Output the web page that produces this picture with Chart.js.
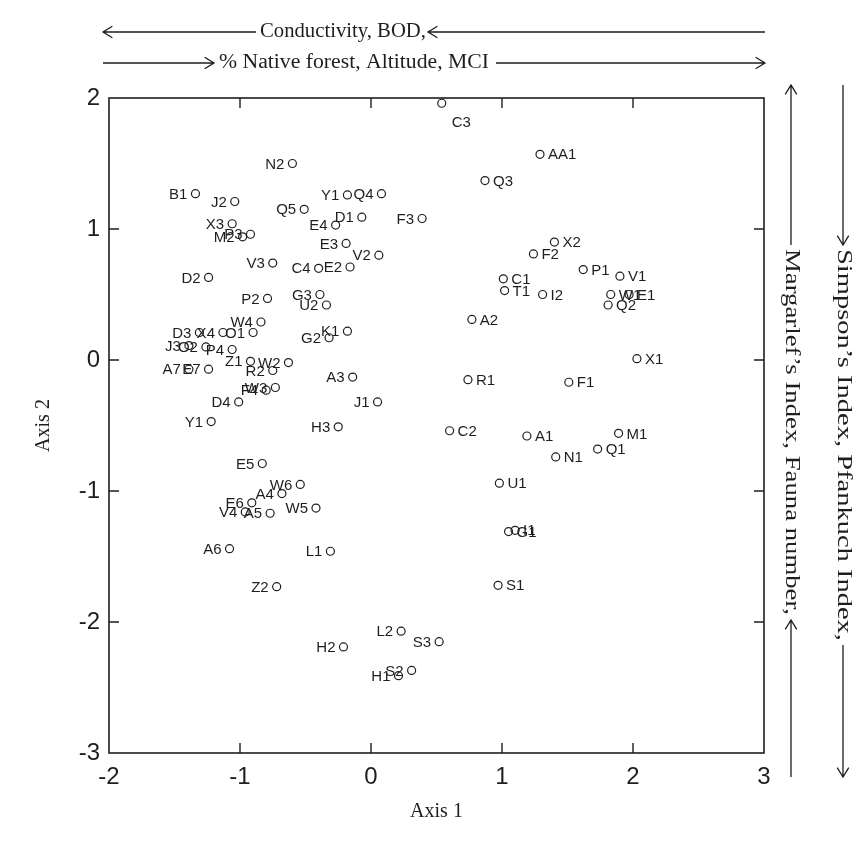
<!DOCTYPE html>
<html lang="en">
<head>
<meta charset="UTF-8" />
<title>Site ordination</title>
<script src="https://cdn.jsdelivr.net/npm/chart.js"></script>
<style>
    body {
        margin: 0;
        background: #fff;
    }
    .chart-box {
        position: relative;
        width: 856px;
        height: 855px;
    }
</style>
</head>
<body>

<div class="chart-box">
    <canvas id="ordChart"></canvas>
</div>

<script>
    // site scores on the first two ordination axes
    const siteNames = [
        'N2', 'B1', 'J2', 'Y1', 'Q4', 'Q5', 'D1', 'E4', 'F3', 'X3', 'M2', 'P3',
        'E3', 'V2', 'V3', 'C4', 'E2', 'D2', 'P2', 'G3', 'U2', 'W4', 'K1', 'G2',
        'D3', 'X4', 'O1', 'J3', 'O2', 'P4', 'Z1', 'W2', 'R2', 'A7', 'E7', 'A3',
        'F4', 'W3', 'D4', 'J1', 'Y1', 'H3', 'E5', 'W6', 'A4', 'E6', 'V4', 'A5',
        'W5', 'A6', 'L1', 'Z2', 'L2', 'H2', 'S3', 'S2', 'H1',
        'C3', 'AA1', 'Q3', 'X2', 'F2', 'P1', 'V1', 'C1', 'T1', 'I2', 'W1', 'E1',
        'Q2', 'A2', 'X1', 'R1', 'F1', 'C2', 'A1', 'M1', 'Q1', 'N1', 'U1', 'G1',
        'I1', 'S1'
    ];
    const axis1 = [
        -0.60, -1.34, -1.04, -0.18, 0.08, -0.51, -0.07, -0.27, 0.39, -1.06, -0.98, -0.92,
        -0.19, 0.06, -0.75, -0.40, -0.16, -1.24, -0.79, -0.39, -0.34, -0.84, -0.18, -0.32,
        -1.31, -1.13, -0.90, -1.39, -1.26, -1.06, -0.92, -0.63, -0.75, -1.39, -1.24, -0.14,
        -0.80, -0.73, -1.01, 0.05, -1.22, -0.25, -0.83, -0.54, -0.68, -0.91, -0.96, -0.77,
        -0.42, -1.08, -0.31, -0.72, 0.23, -0.21, 0.52, 0.31, 0.21,
        0.54, 1.29, 0.87, 1.40, 1.24, 1.62, 1.90, 1.01, 1.02, 1.31, 1.83, 1.97,
        1.81, 0.77, 2.03, 0.74, 1.51, 0.60, 1.19, 1.89, 1.73, 1.41, 0.98, 1.05,
        1.10, 0.97
    ];
    const axis2 = [
        1.50, 1.27, 1.21, 1.26, 1.27, 1.15, 1.09, 1.03, 1.08, 1.04, 0.94, 0.96,
        0.89, 0.80, 0.74, 0.70, 0.71, 0.63, 0.47, 0.50, 0.42, 0.29, 0.22, 0.17,
        0.21, 0.21, 0.21, 0.11, 0.10, 0.08, -0.01, -0.02, -0.08, -0.07, -0.07, -0.13,
        -0.23, -0.21, -0.32, -0.32, -0.47, -0.51, -0.79, -0.95, -1.02, -1.09, -1.16, -1.17,
        -1.13, -1.44, -1.46, -1.73, -2.07, -2.19, -2.15, -2.37, -2.41,
        1.96, 1.57, 1.37, 0.90, 0.81, 0.69, 0.64, 0.62, 0.53, 0.50, 0.50, 0.50,
        0.42, 0.31, 0.01, -0.15, -0.17, -0.54, -0.58, -0.56, -0.68, -0.74, -0.94, -1.31,
        -1.30, -1.72
    ];
    const axis1Ticks = [-2, -1, 0, 1, 2, 3];
    const axis2Ticks = [-3, -2, -1, 0, 1, 2];

    const ink = '#1e1e1e';
    const sans = "'Liberation Sans', Arial, sans-serif";
    const serif = "'Liberation Serif', 'Times New Roman', serif";

    const points = siteNames.map((n, i) => ({ x: axis1[i], y: axis2[i], name: n }));

    // open chevron head at (x2, y2), pointing away from (x1, y1)
    function drawArrow(ctx, x1, y1, x2, y2) {
        const a = Math.atan2(y2 - y1, x2 - x1);
        const h = 11;
        ctx.beginPath();
        ctx.moveTo(x1, y1);
        ctx.lineTo(x2, y2);
        ctx.moveTo(x2 - h * Math.cos(a - 0.55), y2 - h * Math.sin(a - 0.55));
        ctx.lineTo(x2, y2);
        ctx.lineTo(x2 - h * Math.cos(a + 0.55), y2 - h * Math.sin(a + 0.55));
        ctx.stroke();
    }

    // text stretched to a set length; rotated reads top to bottom
    function fittedText(ctx, text, x, y, len, rotated) {
        const sx = len / ctx.measureText(text).width;
        ctx.save();
        ctx.translate(x, y);
        if (rotated) ctx.rotate(Math.PI / 2);
        ctx.scale(sx, 1);
        ctx.textAlign = 'left';
        ctx.textBaseline = 'middle';
        ctx.fillText(text, 0, 0);
        ctx.restore();
    }

    // frame round the plot with inward tick marks on all four sides
    const framePlugin = {
        id: 'frame',
        beforeDatasetsDraw(chart) {
            const { ctx, chartArea: a, scales } = chart;
            const len = 10;
            ctx.save();
            ctx.strokeStyle = ink;
            ctx.lineWidth = 1.6;
            ctx.strokeRect(a.left, a.top, a.right - a.left, a.bottom - a.top);
            ctx.lineWidth = 1.4;
            ctx.beginPath();
            axis1Ticks.slice(1, -1).forEach(v => {
                const px = scales.x.getPixelForValue(v);
                ctx.moveTo(px, a.top); ctx.lineTo(px, a.top + len);
                ctx.moveTo(px, a.bottom); ctx.lineTo(px, a.bottom - len);
            });
            axis2Ticks.slice(1, -1).forEach(v => {
                const py = scales.y.getPixelForValue(v);
                ctx.moveTo(a.left, py); ctx.lineTo(a.left + len, py);
                ctx.moveTo(a.right, py); ctx.lineTo(a.right - len, py);
            });
            ctx.stroke();
            ctx.restore();
        }
    };

    // site codes beside each circle: left of it on the west side, right of it in the east
    const siteLabels = {
        id: 'siteLabels',
        afterDatasetsDraw(chart) {
            const { ctx } = chart;
            const meta = chart.getDatasetMeta(0);
            ctx.save();
            ctx.font = '15px ' + sans;
            ctx.fillStyle = ink;
            ctx.textBaseline = 'middle';
            meta.data.forEach((el, i) => {
                const name = siteNames[i];
                if (name === 'C3') {
                    ctx.textAlign = 'left';
                    ctx.fillText(name, el.x + 10, el.y + 20);
                } else if (axis1[i] >= 0.55) {
                    ctx.textAlign = 'left';
                    ctx.fillText(name, el.x + 8, el.y + 1);
                } else {
                    ctx.textAlign = 'right';
                    ctx.fillText(name, el.x - 8, el.y + 1);
                }
            });
            ctx.restore();
        }
    };

    // environmental gradients written along the top and down the right side
    const gradientNotes = {
        id: 'gradientNotes',
        afterDraw(chart) {
            const { ctx } = chart;
            ctx.save();
            ctx.font = '20px ' + serif;
            ctx.fillStyle = ink;
            ctx.strokeStyle = ink;
            ctx.lineWidth = 1.3;

            drawArrow(ctx, 256, 32, 103, 32);
            fittedText(ctx, 'Conductivity, BOD,', 260, 32, 166, false);
            drawArrow(ctx, 765, 32, 428, 32);

            drawArrow(ctx, 103, 63, 214, 63);
            fittedText(ctx, '% Native forest, Altitude, MCI', 219, 63, 270, false);
            drawArrow(ctx, 496, 63, 765, 63);

            drawArrow(ctx, 843, 85, 843, 245);
            fittedText(ctx, 'Simpson\u2019s Index, Pfankuch Index,', 843, 249, 392, true);
            drawArrow(ctx, 843, 645, 843, 777);

            drawArrow(ctx, 791, 245, 791, 85);
            fittedText(ctx, 'Margarlef\u2019s Index, Fauna number,', 791, 249, 366, true);
            drawArrow(ctx, 791, 777, 791, 620);
            ctx.restore();
        }
    };

    new Chart(document.getElementById('ordChart'), {
        type: 'scatter',
        data: {
            datasets: [{
                data: points,
                pointStyle: 'circle',
                pointRadius: 4,
                pointBorderWidth: 1.2,
                pointBorderColor: ink,
                pointBackgroundColor: 'rgba(255,255,255,0)'
            }]
        },
        options: {
            responsive: true,
            maintainAspectRatio: false,
            animation: false,
            events: [],
            layout: { padding: { left: 0, top: 98, right: 92, bottom: 0 } },
            plugins: {
                legend: { display: false },
                tooltip: { enabled: false }
            },
            scales: {
                x: {
                    type: 'linear',
                    min: -2,
                    max: 3,
                    afterFit: s => { s.height = 102; },
                    afterBuildTicks: s => { s.ticks = axis1Ticks.map(v => ({ value: v })); },
                    grid: { display: false, drawTicks: false },
                    border: { display: false },
                    ticks: {
                        padding: 10,
                        color: ink,
                        font: { family: sans, size: 24 }
                    },
                    title: {
                        display: true,
                        text: 'Axis 1',
                        color: ink,
                        font: { family: serif, size: 20 },
                        padding: { top: 0, bottom: 31 }
                    }
                },
                y: {
                    type: 'linear',
                    min: -3,
                    max: 2,
                    afterFit: s => { s.width = 109; },
                    afterBuildTicks: s => { s.ticks = axis2Ticks.map(v => ({ value: v })); },
                    grid: { display: false, drawTicks: false },
                    border: { display: false },
                    ticks: {
                        padding: 9,
                        color: ink,
                        font: { family: sans, size: 24 }
                    },
                    title: {
                        display: true,
                        text: 'Axis 2',
                        color: ink,
                        font: { family: serif, size: 20 },
                        padding: { top: 32, bottom: 0 }
                    }
                }
            }
        },
        plugins: [framePlugin, siteLabels, gradientNotes]
    });
</script>

</body>
</html>
